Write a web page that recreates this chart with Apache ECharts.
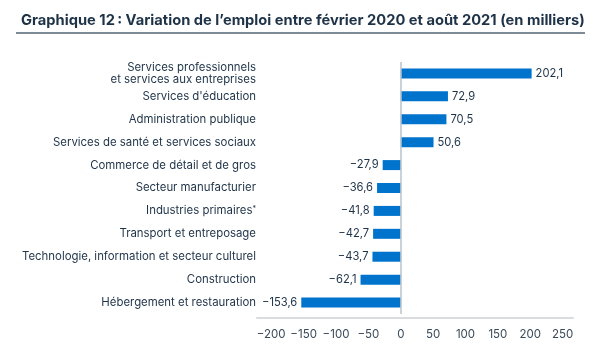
<!DOCTYPE html>
<html>
<head>
<meta charset="utf-8">
<script src="https://cdn.jsdelivr.net/npm/echarts@6/dist/echarts.min.js"></script>
<style>
  html, body { margin: 0; padding: 0; background: #fff; }
  #chart { width: 598px; height: 350px; }
</style>
</head>
<body>
<div id="chart"></div>
<script>
// data, top to bottom as in the picture
var categories = [
  'Services professionnels\net services aux entreprises',
  "Services d'éducation",
  'Administration publique',
  'Services de santé et services sociaux',
  'Commerce de détail et de gros',
  'Secteur manufacturier',
  'Industries primaires*',
  'Transport et entreposage',
  'Technologie, information et secteur culturel',
  'Construction',
  'Hébergement et restauration'
];
var values = [202.1, 72.9, 70.5, 50.6, -27.9, -36.6, -41.8, -42.7, -43.7, -62.1, -153.6];
var tickValues = [-200, -150, -100, -50, 0, 50, 100, 150, 200, 250];

var navy = '#1f3347';
var font = 'Inter';

function fr(v) {
  return String(v).replace('.', ',').replace('-', '\u2212');
}

var myChart = echarts.init(document.querySelector('#chart'));

var option = {
  animation: false,
  textStyle: { fontFamily: font },
  title: {
    text: 'Graphique 12\u202F: Variation de l\u2019emploi entre février 2020 et août 2021 (en milliers)',
    left: 16,
    top: 8,
    textStyle: { fontFamily: font, fontSize: 14.7, fontWeight: 'bold', color: navy }
  },
  // grey rule under the title
  graphic: [{
    type: 'line',
    shape: { x1: 16, y1: 33, x2: 585, y2: 33 },
    style: { stroke: '#7e8c98', lineWidth: 2 }
  }],
  grid: { left: 257, right: 25, top: 62, bottom: 36 },
  xAxis: {
    type: 'value',
    min: -222,
    max: 266,
    offset: 4,
    splitLine: { show: false },
    axisLine: { show: true, lineStyle: { color: '#d9dde1', width: 2 } },
    axisTick: { show: false },
    axisLabel: {
      customValues: tickValues,
      color: '#3a4a5a',
      fontSize: 11.5,
      margin: 11,
      formatter: function (v) { return String(v).replace('-', '\u2212'); }
    }
  },
  yAxis: {
    type: 'category',
    inverse: true,
    data: categories,
    axisLine: { show: false },
    axisTick: { show: false },
    axisLabel: {
      color: navy,
      fontSize: 11.4,
      margin: 1,
      lineHeight: 12,
      formatter: function (v) {
        if (v.slice(-1) === '*') return v.slice(0, -1) + '{sup|*}';
        return v;
      },
      rich: {
        sup: { fontSize: 7, verticalAlign: 'top', color: navy, padding: [0, 0, 5, 0] }
      }
    }
  },
  series: [{
    type: 'bar',
    data: values.map(function (v) {
      return {
        value: v,
        label: { position: v >= 0 ? 'right' : 'left' }
      };
    }),
    barWidth: 10,
    itemStyle: { color: '#0073cc' },
    label: {
      show: true,
      color: navy,
      fontSize: 11.2,
      distance: 4,
      formatter: function (p) { return fr(p.value); }
    },
    markLine: {
      silent: true,
      symbol: 'none',
      label: { show: false },
      lineStyle: { color: '#b8c3cd', type: 'solid', width: 1.5 },
      data: [{ xAxis: 0 }]
    }
  }]
};

myChart.setOption(option);
</script>
</body>
</html>
